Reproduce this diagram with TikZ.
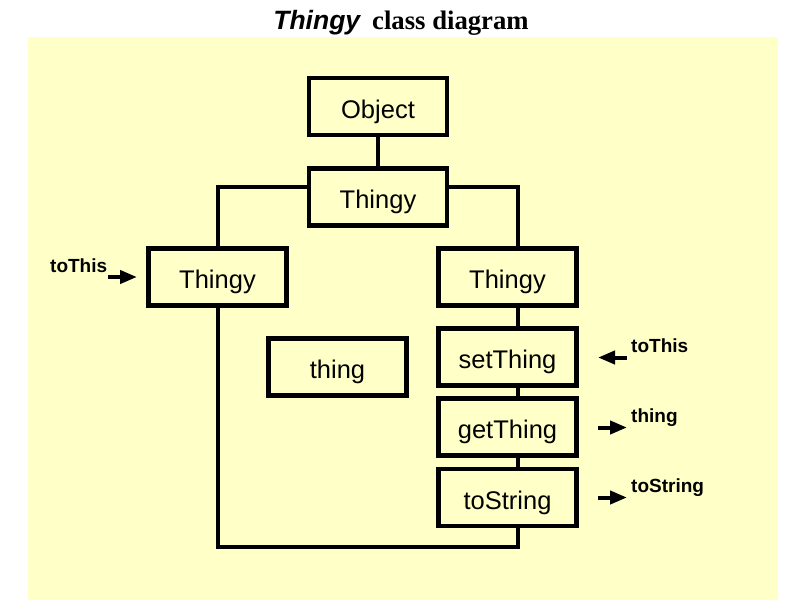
\documentclass[tikz,border=0pt]{standalone}
\usepackage{fontspec}
\setmainfont{Liberation Sans}
\newfontfamily\serifbf{Liberation Serif}
\usetikzlibrary{arrows.meta}
\definecolor{bgyellow}{HTML}{FFFFC8}
\begin{document}
\begin{tikzpicture}[x=1pt,y=-1pt,
  cls/.style={draw=black,line width=4.3pt,fill=bgyellow,minimum width=138pt,minimum height=57pt,inner sep=0pt,text height=23pt,text depth=0pt,font=\fontsize{25.5}{28}\selectfont},
  conn/.style={line width=4pt},
  arr/.style={line width=4pt,-{Triangle[length=17pt,width=13pt]}},
  lbl/.style={font=\bfseries\fontsize{19}{21}\selectfont,inner sep=0pt,anchor=base west}]
\useasboundingbox (0,0) rectangle (800,600);
\fill[white] (0,0) rectangle (800,600);
\fill[bgyellow] (28,37) rectangle (778,600);
\node[anchor=base,inner sep=0pt] (title) at (401,29) {{\bfseries\itshape\fontsize{26.5}{28}\selectfont Thingy}\hspace{12pt}{\serifbf\bfseries\fontsize{26.7}{28}\selectfont class diagram}};
\node[cls] (obj) at (378,106.5) {Object};
\node[cls] (tm) at (378,197) {Thingy};
\node[cls] (tl) at (217.5,277) {Thingy};
\node[cls] (tr) at (507.5,277) {Thingy};
\node[cls] (thing) at (337.5,367) {thing};
\node[cls] (st) at (507.5,357) {setThing};
\node[cls] (gt) at (507.5,427) {getThing};
\node[cls] (ts) at (507.5,497.5) {toString};
\draw[conn] (obj.south) -- (tm.north);
\draw[conn] ([yshift=10.5pt]tm.west) -| (tl.north);
\draw[conn] ([yshift=10.5pt]tm.east) -| ([xshift=10.5pt]tr.north);
\draw[conn] ([xshift=10.5pt]tr.south) -- ([xshift=10.5pt]st.north);
\draw[conn] ([xshift=10.5pt]st.south) -- ([xshift=10.5pt]gt.north);
\draw[conn] ([xshift=10.5pt]gt.south) -- ([xshift=10.5pt]ts.north);
\coordinate (lb) at (217.5,547);
\coordinate (rb) at (518,547);
\draw[conn] (tl.south) -- (lb) -- (rb) -- ([xshift=10.5pt]ts.south);
% method arrows
\coordinate (a1s) at (108,277);
\coordinate (a1e) at (137,277);
\draw[arr] (a1s) -- (a1e);
\node[lbl] (l1) at (50,272) {toThis};
\coordinate (a2s) at (627,357.5);
\coordinate (a2e) at (598,357.5);
\draw[arr] (a2s) -- (a2e);
\node[lbl] (l2) at (631,352) {toThis};
\coordinate (a3s) at (598,427.5);
\coordinate (a3e) at (627,427.5);
\draw[arr] (a3s) -- (a3e);
\node[lbl] (l3) at (631,422) {thing};
\coordinate (a4s) at (598,497.5);
\coordinate (a4e) at (627,497.5);
\draw[arr] (a4s) -- (a4e);
\node[lbl] (l4) at (631,492) {toString};
\end{tikzpicture}
\end{document}
